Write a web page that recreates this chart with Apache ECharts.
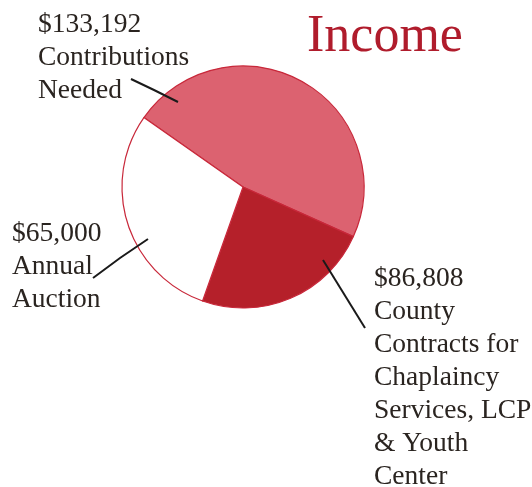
<!DOCTYPE html>
<html>
<head>
<meta charset="utf-8">
<script src="https://cdn.jsdelivr.net/npm/echarts@6/dist/echarts.min.js"></script>
<style>
  html, body { margin: 0; padding: 0; background: #fff; }
  #chart { width: 532px; height: 487px; }
</style>
</head>
<body>
<div id="chart"></div>
<script>
// slices, in drawing order (clockwise from the upper left)
var categories = ['Contributions Needed', 'County Contracts', 'Annual Auction']
// share of the circle each slice covers in the picture, in percent
var shares = [47.0, 23.7, 29.3]
// label text as printed beside each slice
var amountLabels = ['$133,192', '$86,808', '$65,000']
var labelLines = [
  ['Contributions', 'Needed'],
  ['County', 'Contracts for', 'Chaplaincy', 'Services, LCP', '& Youth', 'Center'],
  ['Annual', 'Auction']
]
var sliceColors = ['#dc6270', '#b5202a', '#ffffff']

// where each label sits and where its pointer line runs
var labelPos = [
  { x: 38, y: 8, line: [[178, 102], [154, 90], [131, 79]] },
  { x: 374, y: 262, line: [[323, 260], [344, 294], [365, 328]] },
  { x: 12, y: 217, line: [[148, 239], [120, 258], [93, 278]] }
]

var chart = echarts.init(document.getElementById('chart'))

var pieBase = {
  type: 'pie',
  center: [243, 187],
  radius: [0, 121],
  startAngle: 145,
  clockwise: true,
  emphasis: { disabled: true }
}

var option = {
  animation: false,
  title: {
    text: 'Income',
    left: 302,
    top: 6,
    textStyle: {
      fontFamily: 'Liberation Serif',
      fontWeight: 'normal',
      fontSize: 52,
      color: '#b01c2c'
    }
  },
  series: [
    // the slices
    Object.assign({}, pieBase, {
      z: 2,
      itemStyle: {
        borderColor: '#c8283a',
        borderWidth: 1.2
      },
      label: { show: false },
      labelLine: { show: false },
      data: categories.map(function (name, i) {
        return { name: name, value: shares[i], itemStyle: { color: sliceColors[i] } }
      })
    }),
    // same slices, invisible, carrying the labels so pointer lines sit on top
    Object.assign({}, pieBase, {
      z: 3,
      silent: true,
      itemStyle: { color: 'rgba(0,0,0,0)', borderWidth: 0 },
      label: {
        show: true,
        position: 'outside',
        overflow: 'none',
        fontFamily: 'Liberation Serif',
        fontSize: 27.5,
        lineHeight: 33,
        color: '#2a2420',
        align: 'left',
        formatter: function (p) {
          return [amountLabels[p.dataIndex]].concat(labelLines[p.dataIndex]).join('\n')
        }
      },
      labelLine: {
        show: true,
        lineStyle: { color: '#1a1a1a', width: 2 }
      },
      labelLayout: function (p) {
        var pos = labelPos[p.dataIndex]
        return {
          x: pos.x,
          y: pos.y,
          align: 'left',
          verticalAlign: 'top',
          labelLinePoints: pos.line
        }
      },
      data: categories.map(function (name, i) {
        return { name: name, value: shares[i] }
      })
    })
  ]
}

chart.setOption(option)
</script>
</body>
</html>
